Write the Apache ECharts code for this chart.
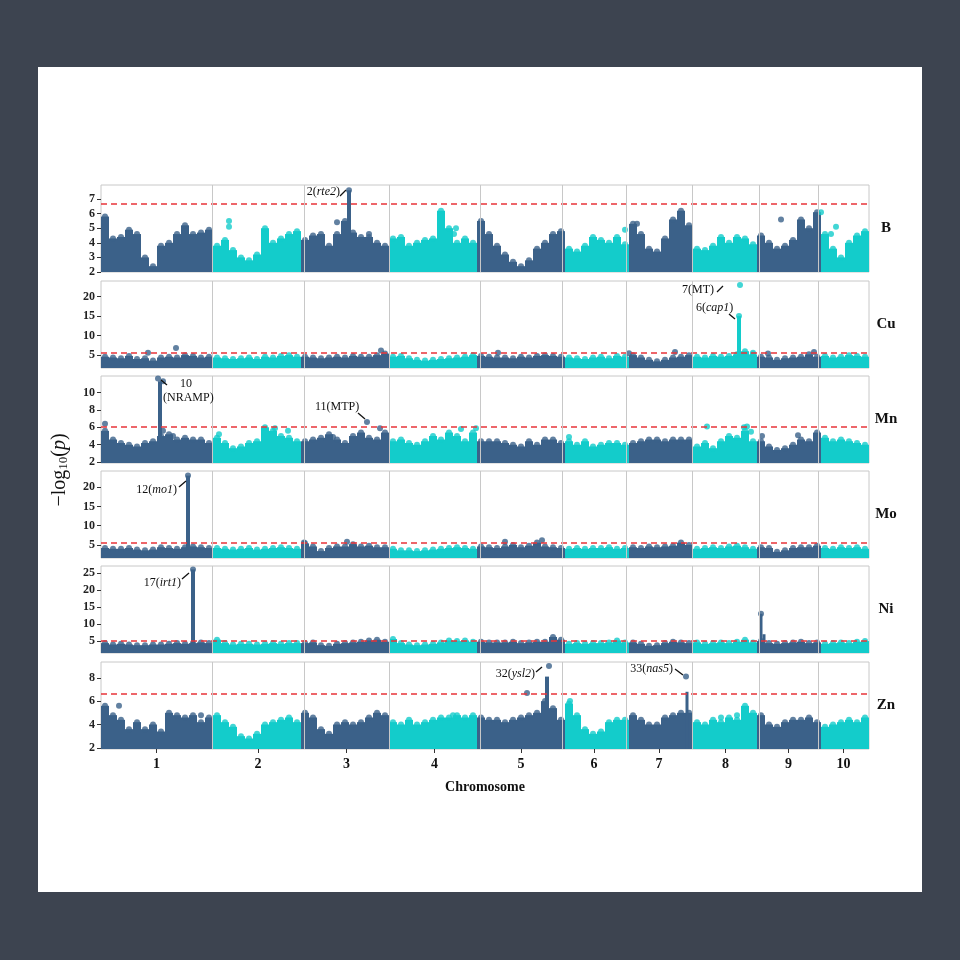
<!DOCTYPE html>
<html><head><meta charset="utf-8">
<script src="https://cdn.jsdelivr.net/npm/echarts@6/dist/echarts.min.js"></script>
<style>html,body{margin:0;padding:0;background:#3d4450;}#c{width:960px;height:960px;}</style>
</head><body><div id="c"></div>
<script>
// Chromosome boundaries (cumulative position units) and labels
const chromBounds = [0,111,203,288,379,461,525,591,658,717,768];
const chromLabels = ['1','2','3','4','5','6','7','8','9','10'];
const traits = ['B','Cu','Mn','Mo','Ni','Zn'];
const thresholds = [6.7,5.5,6.1,5.5,5.2,6.6];
const tickLabels = [[2,3,4,5,6,7],[5,10,15,20],[2,4,6,8,10],[5,10,15,20],[5,10,15,20,25],[2,4,6,8]];
// Envelope of -log10(p) per 8-unit bin (96 bins)
const valsB = [5.8,4.3,4.4,4.9,4.6,3.0,2.4,3.8,4.0,4.6,5.2,4.6,4.7,4.9,
 3.8,4.2,3.5,3.0,2.8,3.2,5.0,4.0,4.3,4.6,4.8,
 4.2,4.5,4.6,3.8,4.6,5.5,4.7,4.4,4.4,4.0,3.8,
 4.3,4.4,3.8,4.0,4.2,4.3,6.2,5.0,4.0,4.3,4.0,
 5.5,4.6,3.8,3.2,2.7,2.4,2.8,3.6,4.0,4.6,4.8,
 3.6,3.4,3.8,4.4,4.2,4.0,4.4,3.9,
 5.3,4.6,3.6,3.4,4.3,5.6,6.2,5.2,
 3.6,3.5,3.8,4.4,4.0,4.4,4.3,3.9,
 4.5,4.0,3.6,3.8,4.2,5.6,5.0,
 6.1,4.6,3.6,3.0,4.0,4.5,4.8];
const valsCu = [4.6,4.4,4.2,4.8,4.0,4.2,3.6,4.4,4.6,4.4,5.0,4.8,4.4,4.6,
 4.4,4.2,4.0,4.2,4.4,4.0,4.6,4.4,4.8,5.0,4.6,
 4.6,4.4,4.2,4.4,4.6,4.4,4.8,4.6,4.6,5.0,5.4,
 4.6,4.8,4.2,3.8,3.6,3.8,4.0,4.2,4.4,4.6,5.0,
 4.8,4.6,4.4,4.4,4.2,4.6,4.4,4.8,5.0,4.8,4.6,
 4.4,4.2,4.0,4.4,4.6,4.2,4.8,4.6,
 5.0,4.4,3.8,3.4,3.8,4.4,4.6,5.0,
 4.6,4.4,4.8,4.6,4.8,5.2,6.0,5.2,
 4.6,4.4,3.8,4.2,4.4,4.6,5.2,
 4.6,4.8,4.4,4.6,5.0,4.8,4.6];
const valsMn = [5.6,4.6,4.2,4.0,3.8,4.2,4.4,5.0,5.2,4.6,4.8,4.6,4.6,4.2,
 4.8,4.2,3.6,3.8,4.2,4.4,6.0,5.6,5.0,4.8,4.4,
 4.4,4.6,4.8,5.2,4.6,4.2,5.0,5.4,4.8,4.6,5.4,
 4.4,4.6,4.2,4.0,4.4,5.0,4.6,5.4,5.0,4.4,5.4,
 4.4,4.4,4.4,4.2,4.0,3.8,4.4,4.0,4.6,4.6,4.2,
 4.4,4.0,4.4,3.8,4.0,4.2,4.2,4.0,
 4.2,4.4,4.6,4.6,4.4,4.6,4.6,4.6,
 3.8,4.2,3.6,4.4,5.0,4.8,5.6,4.4,
 4.4,3.8,3.4,3.6,4.0,4.6,4.4,
 5.4,4.8,4.4,4.6,4.4,4.2,4.0];
const valsMo = [4.2,4.0,4.0,4.2,3.8,3.6,3.8,4.4,4.2,4.0,4.4,4.6,4.4,4.2,
 4.2,4.0,3.8,4.0,4.2,3.8,4.0,4.2,4.4,4.2,4.0,
 5.4,4.6,3.4,4.2,4.6,4.6,5.2,4.6,4.8,4.4,4.4,
 4.0,3.6,3.6,3.4,3.6,3.8,4.0,4.2,4.4,4.2,4.0,
 4.6,4.4,4.2,4.6,5.0,4.4,4.8,5.6,4.6,4.4,4.2,
 4.0,4.2,4.0,4.2,4.2,4.4,4.0,4.2,
 4.4,4.2,4.6,4.4,4.6,4.8,5.6,5.0,
 4.0,4.2,4.4,4.2,4.6,4.8,4.4,4.0,
 4.4,4.2,3.2,3.6,4.2,4.4,4.4,
 4.8,4.2,4.0,4.4,4.2,4.4,4.0];
const valsNi = [4.4,4.0,4.2,4.0,3.8,3.8,4.0,4.0,4.2,4.4,4.2,4.4,4.6,4.4,
 5.4,4.4,4.0,4.2,4.2,4.0,4.2,4.4,4.2,4.4,4.4,
 4.4,4.6,3.8,3.6,4.2,4.4,4.6,4.8,5.2,5.4,4.8,
 5.6,4.4,4.0,3.8,4.0,4.2,4.6,5.2,5.0,5.2,4.8,
 4.8,4.6,4.6,4.6,4.8,4.4,4.6,4.8,4.8,6.2,5.4,
 4.2,4.4,4.2,4.4,4.4,4.6,5.2,4.6,
 4.6,4.2,3.6,3.8,4.4,4.8,4.6,4.4,
 4.6,4.2,4.4,4.6,4.4,4.8,5.4,4.6,
 5.0,4.4,4.2,4.4,4.6,4.8,4.4,
 4.6,4.2,4.4,4.6,4.4,4.8,5.0];
const valsZn = [5.6,4.8,4.4,3.6,4.2,3.6,4.0,3.4,5.0,4.8,4.6,4.8,4.2,4.6,
 4.8,4.2,3.8,3.0,2.8,3.2,4.0,4.2,4.4,4.6,4.2,
 5.0,4.6,3.6,3.2,4.0,4.2,4.0,4.2,4.6,5.0,4.8,
 4.2,4.0,4.4,4.0,4.2,4.4,4.6,4.6,4.8,4.6,4.8,
 4.6,4.4,4.4,4.2,4.4,4.6,4.8,5.0,6.0,5.4,4.4,
 5.8,4.8,3.6,3.2,3.4,4.2,4.4,4.4,
 4.8,4.4,4.0,4.0,4.6,4.8,5.0,5.0,
 4.2,4.0,4.4,4.2,4.6,4.4,5.6,5.0,
 4.8,4.0,3.8,4.2,4.4,4.4,4.6,
 4.2,3.8,4.0,4.2,4.4,4.2,4.6];
const allVals = [valsB,valsCu,valsMn,valsMo,valsNi,valsZn];
// Narrow peaks [position, top value, width]
const peaksB = [[248,7.6,4]];
const peaksCu = [[638,15,4]];
const peaksMn = [[59,11.3,4]];
const peaksMo = [[87,23,4]];
const peaksNi = [[92,26,4],[660,13,3],[663,7,3]];
const peaksZn = [[446,8.1,4],[586,6.8,3]];
const allPeaks = [peaksB,peaksCu,peaksMn,peaksMo,peaksNi,peaksZn];
// Isolated points [position, value]
const dotsB = [[128,5.5],[128,5.1],[236,5.4],[268,4.6],[355,5.0],[353,4.6],[536,5.3],[524,4.9],[680,5.6],[701,5.1],[735,5.1],[720,6.1],[730,4.6],[248,7.6]];
const dotsCu = [[75,6.8],[47,5.6],[280,6.2],[397,5.6],[574,5.8],[528,5.5],[713,5.8],[667,5.4],[652,5.6],[639,23],[638,15]];
const dotsMn = [[4,6.4],[72,5.0],[62,5.6],[57,11.6],[62,11.3],[118,5.2],[187,5.6],[174,5.9],[266,6.6],[279,5.9],[232,4.9],[360,5.8],[375,5.9],[468,4.9],[606,6.1],[643,6.0],[646,6.1],[650,5.5],[661,5.0],[697,5.1]];
const dotsMo = [[203,5.6],[246,5.8],[404,5.8],[441,6.2],[87,23]];
const dotsNi = [[92,26],[660,13]];
const dotsZn = [[18,5.6],[100,4.8],[352,4.8],[448,9.0],[426,6.7],[469,6.0],[585,8.1],[620,4.6],[636,4.8]];
const allDots = [dotsB,dotsCu,dotsMn,dotsMo,dotsNi,dotsZn];

const yMin = [2,1.7,1.9,1.6,1.5,1.9];
const yMax = [7.96,24,11.9,24.2,27,9.35];
const DARK='#3b6189', CYAN='#13cccb';
function chromOf(p){for(let k=0;k<10;k++){if(p<chromBounds[k+1])return k;}return 9;}
function colorOf(p){return chromOf(p)%2===0?DARK:CYAN;}
const tops=[185,281,376,471,566,662], H=87, L=101, W=768;
const serif='Liberation Serif';
const grids=[],xAxes=[],yAxes=[],series=[];
const centers=chromLabels.map((_,k)=>(chromBounds[k]+chromBounds[k+1])/2);
traits.forEach((t,r)=>{
  grids.push({left:L,top:tops[r],width:W,height:H,show:true,borderColor:'#c8c8c8',borderWidth:1,backgroundColor:'#fff'});
  const last=r===traits.length-1;
  xAxes.push({type:'value',gridIndex:r,min:0,max:768,splitLine:{show:false},axisLine:{show:false},
    axisTick:{show:last,customValues:centers,length:4,lineStyle:{color:'#333'}},
    axisLabel:{show:last,customValues:centers,formatter:v=>chromLabels[centers.indexOf(v)],fontFamily:serif,fontWeight:'bold',fontSize:14,color:'#111',margin:8}});
  yAxes.push({type:'value',gridIndex:r,min:yMin[r],max:yMax[r],splitLine:{show:false},axisLine:{show:false},
    axisTick:{show:true,customValues:tickLabels[r],length:4,lineStyle:{color:'#333'}},
    axisLabel:{customValues:tickLabels[r],fontFamily:serif,fontSize:12,fontWeight:'bold',color:'#222',margin:6}});
  const bars=allVals[r].map((v,i)=>[8*i+4,v,8]).concat(allPeaks[r]);
  const ymin=yMin[r];
  series.push({type:'custom',xAxisIndex:r,yAxisIndex:r,clip:true,silent:true,data:bars,
    renderItem:(params,api)=>{const p=api.value(0),v=api.value(1),w=api.value(2);
      const top=api.coord([p,v]),bot=api.coord([p,ymin]);const wp=api.size([w,0])[0];
      return {type:'rect',shape:{x:top[0]-wp/2,y:top[1],width:wp,height:bot[1]-top[1]},style:{fill:colorOf(p)}};},
    markLine:{silent:true,symbol:'none',label:{show:false},animation:false,
      data:[{yAxis:thresholds[r],lineStyle:{color:'#e8353a',type:[6,4],width:1.5}}]
        .concat(chromBounds.slice(1,10).map(b=>({xAxis:b,lineStyle:{color:'#c8c8c8',type:'solid',width:1}})))}
  });
  const pts=allVals[r].map((v,i)=>[8*i+4,v]).concat(allDots[r]);
  series.push({type:'scatter',xAxisIndex:r,yAxisIndex:r,symbolSize:6,silent:true,
    data:pts.map(d=>({value:d,itemStyle:{color:colorOf(d[0])}}))});
});
function ann(x,y,rich,align){return {type:'text',z:100,x:x,y:y,style:{rich:{i:{fontStyle:'italic',fontFamily:serif,fontSize:12,fill:'#111'},n:{fontFamily:serif,fontSize:12,fill:'#111'}},text:rich,align:align||'left',verticalAlign:'middle'}};}
function seg(x1,y1,x2,y2){return {type:'line',z:100,shape:{x1,y1,x2,y2},style:{stroke:'#111',lineWidth:1.3}};}
const graphic=[
 {type:'rect',shape:{x:38,y:67,width:884,height:825},style:{fill:'#fff'},z:-10},
 ann(340,192,'{n|2(}{i|rte2}{n|)}','right'),seg(340,196,346,190),
 ann(714,290,'{n|7(MT)}','right'),seg(717,292,723,286),
 ann(696,308,'{n|6(}{i|cap1}{n|)}'),seg(729,314,735,319),
 ann(180,384,'{n|10}'),ann(163,398,'{n|(NRAMP)}'),seg(161,380,167,385),
 ann(315,407,'{n|11(MTP)}'),seg(358,413,365,419),
 ann(177,490,'{n|12(}{i|mo1}{n|)}','right'),seg(179,487,186,481),
 ann(181,583,'{n|17(}{i|irt1}{n|)}','right'),seg(182,579,189,573),
 ann(535,674,'{n|32(}{i|ysl2}{n|)}','right'),seg(536,672,542,667),
 ann(673,669,'{n|33(}{i|nas5}{n|)}','right'),seg(675,669,683,675),
 {type:'text',x:485,y:787,style:{text:'Chromosome',fontFamily:serif,fontWeight:'bold',fontSize:14,fill:'#111',align:'center',verticalAlign:'middle'}},
 {type:'text',x:60,y:470,rotation:Math.PI/2,style:{text:'{a|−log}{s|10}{a|(}{i|p}{a|)}',align:'center',verticalAlign:'middle',
   rich:{a:{fontFamily:serif,fontSize:20,fill:'#111'},s:{fontFamily:serif,fontSize:13,fill:'#111',verticalAlign:'bottom',padding:[8,0,0,0]},i:{fontFamily:serif,fontSize:20,fontStyle:'italic',fill:'#111'}}}}
].concat(traits.map((t,r)=>({type:'text',x:886,y:tops[r]+H/2,style:{text:t,fontFamily:serif,fontWeight:'bold',fontSize:15,fill:'#111',align:'center',verticalAlign:'middle'}})));
const chart=echarts.init(document.getElementById('c'));
chart.setOption({backgroundColor:'#3d4450',animation:false,grid:grids,xAxis:xAxes,yAxis:yAxes,series:series,graphic:graphic});
</script></body></html>
